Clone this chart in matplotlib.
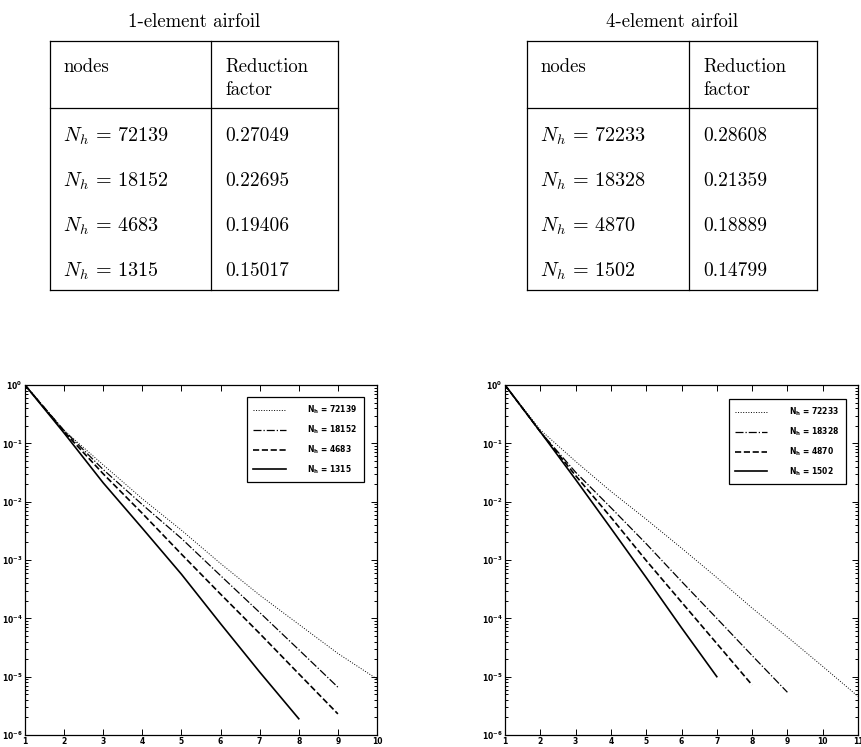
import matplotlib
matplotlib.use("Agg")
import matplotlib.pyplot as plt
from matplotlib.lines import Line2D
from matplotlib.ticker import FixedLocator, FuncFormatter, LogLocator, NullFormatter
import numpy as np

# tables
titles = ["1-element airfoil", "4-element airfoil"]
nodes_1 = [72139, 18152, 4683, 1315]
factor_1 = ["0.27049", "0.22695", "0.19406", "0.15017"]
nodes_4 = [72233, 18328, 4870, 1502]
factor_4 = ["0.28608", "0.21359", "0.18889", "0.14799"]

# convergence histories (residual per iteration)
res_1 = [
    [1, 1.66e-1, 4.27e-2, 1.12e-2, 3.24e-3, 8.7e-4, 2.5e-4, 7.9e-5, 2.5e-5, 9.1e-6],
    [1, 1.66e-1, 3.55e-2, 8.9e-3, 2.34e-3, 5.4e-4, 1.26e-4, 2.9e-5, 6.6e-6],
    [1, 1.58e-1, 3.0e-2, 6.3e-3, 1.26e-3, 2.6e-4, 5.5e-5, 1.12e-5, 2.3e-6],
    [1, 1.5e-1, 2.1e-2, 3.5e-3, 5.7e-4, 8.1e-5, 1.2e-5, 1.9e-6],
]
res_4 = [
    [1, 1.7e-1, 4.9e-2, 1.5e-2, 5.0e-3, 1.6e-3, 5.0e-4, 1.5e-4, 4.8e-5, 1.5e-5, 4.6e-6],
    [1, 1.58e-1, 3.2e-2, 7.9e-3, 1.9e-3, 4.3e-4, 1.0e-4, 2.3e-5, 5.4e-6],
    [1, 1.58e-1, 2.8e-2, 5.4e-3, 9.8e-4, 1.9e-4, 3.7e-5, 7.2e-6],
    [1, 1.58e-1, 2.4e-2, 3.5e-3, 5.0e-4, 6.9e-5, 1.0e-5],
]
styles = [(":", 0.7), ("-.", 0.9), ("--", 1.2), ("-", 1.2)]

W, H = 861, 747
fig = plt.figure(figsize=(W / 100, H / 100), dpi=100)
plt.rcParams['mathtext.fontset'] = 'cm'

def fx(px):
    return px / W

def fy(py):
    return 1 - py / H

def hline(x0, x1, y):
    fig.add_artist(Line2D([fx(x0), fx(x1)], [fy(y), fy(y)], color="black", lw=0.9))

def vline(x, y0, y1):
    fig.add_artist(Line2D([fx(x), fx(x)], [fy(y0), fy(y1)], color="black", lw=0.9))

serif = ["cmr10", "DejaVu Serif"]
fs = 13.5

def draw_table(left, mid, right, title, nodes, factors):
    fig.text(fx((left + right) / 2), fy(22), title, family=serif, size=fs,
             ha="center", va="center")
    top, head, bot = 41, 108, 290
    hline(left, right, top)
    hline(left, right, head)
    hline(left, right, bot)
    vline(left, top, bot)
    vline(mid, top, bot)
    vline(right, top, bot)
    fig.text(fx(left + 13), fy(67), "nodes", family=serif, size=fs, va="center")
    fig.text(fx(mid + 14), fy(67), "Reduction", family=serif, size=fs, va="center")
    fig.text(fx(mid + 14), fy(90), "factor", family=serif, size=fs, va="center")
    rows_y = [136, 181, 226, 271]
    for n, f, y in zip(nodes, factors, rows_y):
        fig.text(fx(left + 13), fy(y), r"$N_h\,=\,%d$" % n, size=fs + 1, va="center")
        fig.text(fx(mid + 14), fy(y), f, family=serif, size=fs + 0.5, va="center")

draw_table(50, 211, 338, titles[0], nodes_1, factor_1)
draw_table(527, 689, 817, titles[1], nodes_4, factor_4)

def tick_fmt(v, pos):
    e = int(round(np.log10(v)))
    return r"$\mathbf{10^{%d}}$" % e

def draw_plot(rect, res, nodes, xmax, anchor):
    ax = fig.add_axes(rect)
    for r, n, (ls, lw) in zip(res, nodes, styles):
        it = np.arange(1, len(r) + 1)
        ax.semilogy(it, r, ls, color="black", lw=lw, label=r"$\mathbf{N_h}$ = %d" % n)
    ax.set_xlim(1, xmax)
    ax.set_ylim(1e-6, 1)
    ax.xaxis.set_major_locator(FixedLocator(range(1, xmax + 1)))
    ax.yaxis.set_major_locator(LogLocator(base=10, numticks=10))
    ax.yaxis.set_minor_locator(LogLocator(base=10, subs=np.arange(2, 10), numticks=10))
    ax.yaxis.set_minor_formatter(NullFormatter())
    ax.yaxis.set_major_formatter(FuncFormatter(tick_fmt))
    ax.tick_params(which="both", direction="in", top=True, right=True, width=0.7)
    ax.tick_params(which="major", length=4, labelsize=5.5, pad=2)
    ax.tick_params(axis="x", pad=1.2)
    ax.tick_params(which="minor", length=2)
    for lab in ax.get_xticklabels():
        lab.set_fontweight("bold")
        lab.set_family("DejaVu Sans")
    for lab in ax.get_yticklabels():
        lab.set_math_fontfamily("dejavusans")
    for s in ax.spines.values():
        s.set_linewidth(0.9)
    leg = ax.legend(loc="upper right", bbox_to_anchor=anchor, fancybox=False,
                    edgecolor="black", framealpha=1, handlelength=4.2,
                    handletextpad=2.8, labelspacing=0.95, borderpad=0.9,
                    prop={"size": 5.5, "weight": "bold", "math_fontfamily": "dejavusans"})
    leg.get_frame().set_linewidth(0.9)
    return ax

draw_plot([fx(25), fy(735), fx(377) - fx(25), fy(385) - fy(735)], res_1, nodes_1, 10, (0.974, 0.977))
draw_plot([fx(505), fy(735), fx(858) - fx(505), fy(385) - fy(735)], res_4, nodes_4, 11, (0.977, 0.971))

fig.savefig("out.png", dpi=100)
